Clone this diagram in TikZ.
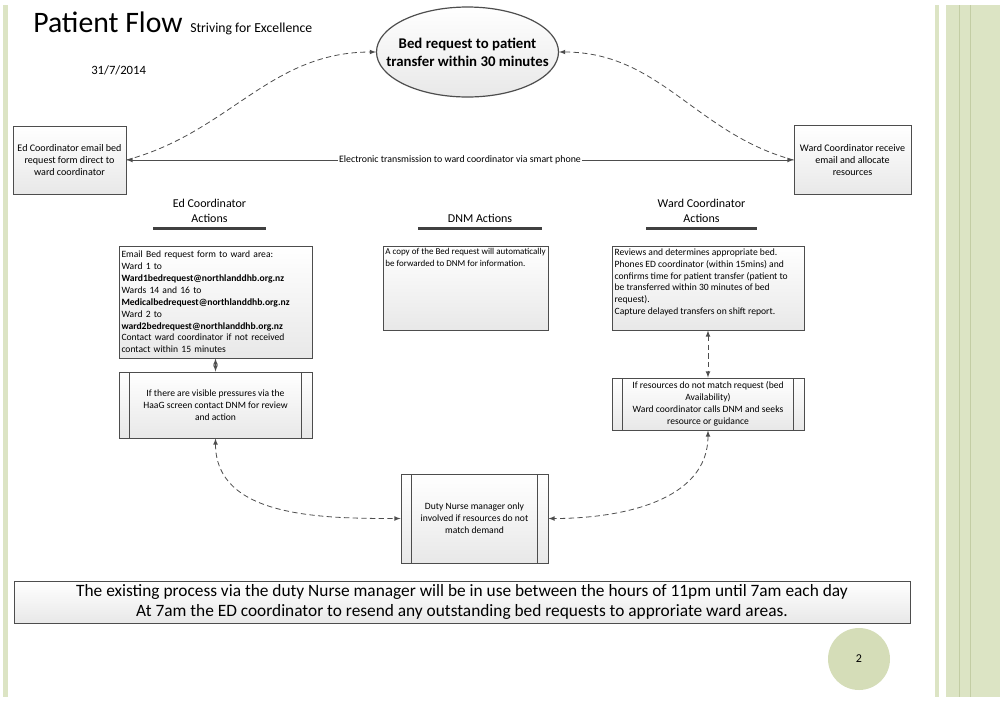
\documentclass[tikz,border=0pt]{standalone}
\usepackage{fontspec}
\setmainfont{Carlito}
\usepackage{xcolor}
\usetikzlibrary{shapes.geometric}

\definecolor{sage}{HTML}{DCE4C4}
\definecolor{sageline}{HTML}{C3CDA4}
\definecolor{pagedot}{HTML}{D5DDB8}
\definecolor{boxline}{HTML}{4D4D4D}

\tikzset{
  box/.style={draw=boxline, line width=0.7pt, top color=white, bottom color=black!9, inner sep=1.5pt},
  subproc/.style={box, path picture={
      \draw[boxline, line width=0.7pt] ([xshift=8pt]path picture bounding box.north west) -- ([xshift=8pt]path picture bounding box.south west);
      \draw[boxline, line width=0.7pt] ([xshift=-8pt]path picture bounding box.north east) -- ([xshift=-8pt]path picture bounding box.south east);}},
  flow/.style={draw=boxline, line width=0.6pt, >=latex},
  dflow/.style={flow, dash pattern=on 4pt off 2.5pt},
  bar/.style={line width=2.6pt, draw=black!75},
  small/.style={font=\fontsize{7.2}{8.9}\selectfont}
}

\begin{document}
\begin{tikzpicture}[x=0.75pt,y=-0.75pt]
            \useasboundingbox (0,0) rectangle (1000,701);
            % page border
            \fill[sage] (3,5) rectangle (8,697);
            \fill[sage] (935,5) rectangle (939,697);
            \fill[sage] (946,5) rectangle (1000,697);
            \draw[sageline] (959,5) -- (959,697);
            \draw[sageline] (970,5) -- (970,697);
            % heading
            \node[anchor=base west, inner sep=0, font=\fontsize{22.3}{22}\selectfont] (title) at (33,32) {Patient Flow};
            \node[anchor=base west, inner sep=0, font=\fontsize{10.3}{10}\selectfont] (motto) at (190,32) {Striving for Excellence};
            \node[anchor=base west, inner sep=0, font=\fontsize{9.5}{9}\selectfont] (date) at (91,74) {31/7/2014};
            % top row
            \node[box, ellipse, line width=0.9pt, minimum width=136.5pt, minimum height=67.5pt, inner sep=0,
                  label={[align=center, font=\fontsize{11.1}{13.5}\selectfont\bfseries]center:Bed request to patient\\transfer within 30 minutes}] (goal) at (467.5,52) {};
            \node[box, minimum width=84.75pt, minimum height=51pt, align=center, font=\fontsize{7.55}{9}\selectfont] (edmail) at (69.5,160) {Ed Coordinator email bed\\request form direct to\\ward coordinator};
            \node[box, minimum width=87.75pt, minimum height=51.75pt, align=center, font=\fontsize{7.55}{9}\selectfont] (wardmail) at (852.5,160) {Ward Coordinator receive\\email and allocate\\resources};
            \draw[flow,<->] (edmail) -- node[fill=white, inner sep=1pt, font=\fontsize{7.4}{8}\selectfont] {Electronic transmission to ward coordinator via smart phone} (wardmail);
            \draw[dflow,->] (edmail.east) to[out=15,in=180] (goal.west);
            \draw[dflow,->] (wardmail.west) to[out=165,in=0] (goal.east);
            % column titles
            \node[align=center, font=\fontsize{9}{11.25}\selectfont] (edhead) at (209.5,210.5) {Ed Coordinator\\Actions};
            \node[font=\fontsize{9}{11.25}\selectfont] (dnmhead) at (480,218) {DNM Actions};
            \node[align=center, font=\fontsize{9}{11.25}\selectfont] (wardhead) at (701.5,210.5) {Ward Coordinator\\Actions};
            \draw[bar] (153,228.5) -- (266,228.5);
            \draw[bar] (418,228.5) -- (542,228.5);
            \draw[bar] (646,228.5) -- (757,228.5);
            % action boxes
            \node[box, minimum width=144.75pt, minimum height=84pt, text width=141pt, align=left, small] (edbox) at (215.5,302) {Email Bed request form to ward area:\\Ward 1 to\\\textbf{Ward1bedrequest@northlanddhb.org.nz}\\Wards 14 and 16 to\\\textbf{Medicalbedrequest@northlanddhb.org.nz}\\Ward 2 to\\\textbf{ward2bedrequest@northlanddhb.org.nz}\\Contact ward coordinator if not received\\contact within 15 minutes};
            \node[box, minimum width=123.75pt, minimum height=63pt, inner sep=1.5pt, font=\fontsize{6.75}{8.9}\selectfont] (dnmbox) at (465.5,288) {\parbox[c][60pt][t]{118pt}{\hbox{A copy of the Bed request will automatically}\hbox{be forwarded to DNM for information.}}};
            \node[box, minimum width=144pt, minimum height=63pt, inner sep=2pt, small] (wardbox) at (708,288) {\parbox[c][59pt][t]{140pt}{Reviews and determines appropriate bed.\\Phones ED coordinator (within 15mins) and\\confirms time for patient transfer (patient to\\be transferred within 30 minutes of bed\\request).\\Capture delayed transfers on shift report.}};
            \node[subproc, minimum width=144.75pt, minimum height=49.5pt, align=center, small] (edsub) at (215.5,405) {If there are visible pressures via the\\HaaG screen contact DNM for review\\and action};
            \node[subproc, minimum width=144pt, minimum height=39pt, align=center, small] (wardsub) at (708,404) {If resources do not match request (bed\\Availability)\\Ward coordinator calls DNM and seeks\\resource or guidance};
            \node[subproc, minimum width=110.25pt, minimum height=66.75pt, align=center, small] (duty) at (474.5,518.5) {Duty Nurse manager only\\involved if resources do not\\match demand};
            \draw[flow,<->] (edbox) -- (edsub);
            \draw[dflow,<->] (wardbox) -- (wardsub);
            \draw[dflow,<->] (edsub.south) to[out=-90,in=180] (duty.west);
            \draw[dflow,<->] (wardsub.south) to[out=-90,in=0] (duty.east);
            % note and page number
            \node[box, minimum width=672pt, minimum height=31.5pt, align=center, font=\fontsize{13}{15}\selectfont] (note) at (462,602) {The existing process via the duty Nurse manager will be in use between the hours of 11pm until 7am each day\\At 7am the ED coordinator to resend any outstanding bed requests to approriate ward areas.};
            \node[circle, fill=pagedot, minimum size=46.5pt, inner sep=0, font=\fontsize{9}{9}\selectfont] (pagenum) at (859,659) {2};
        \end{tikzpicture}
\end{document}
